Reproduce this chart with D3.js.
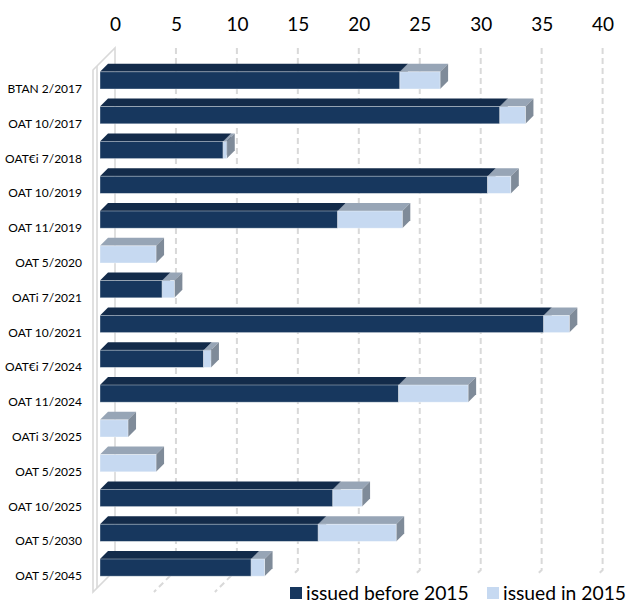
<!DOCTYPE html>
<html>
<head>
<meta charset="utf-8">
<script src="https://cdn.jsdelivr.net/npm/d3@7"></script>
<style>
  body { margin: 0; background: #fff; }
  svg { display: block; font-family: Lato, "Open Sans", sans-serif; }
</style>
</head>
<body>
<svg width="637" height="607"></svg>
<script>
let categories = ["BTAN 2/2017", "OAT 10/2017", "OAT€i 7/2018", "OAT 10/2019", "OAT 11/2019",
                  "OAT 5/2020", "OATi 7/2021", "OAT 10/2021", "OAT€i 7/2024", "OAT 11/2024",
                  "OATi 3/2025", "OAT 5/2025", "OAT 10/2025", "OAT 5/2030", "OAT 5/2045"];
let before2015 = [24.6, 32.8, 10.1, 31.8, 19.5, 0, 5.1, 36.4, 8.5, 24.5, 0, 0, 19.1, 17.9, 12.4];
let in2015     = [3.3, 2.1, 0.3, 1.9, 5.3, 4.6, 1.0, 2.1, 0.6, 5.7, 2.3, 4.6, 2.4, 6.4, 1.1];
let seriesNames = ["issued before 2015", "issued in 2015"];
let xTicks = [0, 5, 10, 15, 20, 25, 30, 35, 40];

/******************/

// front corner of the left wall, and depth of the 3d box
let x0 = 93, plotTop = 70, plotBottom = 592, depth = 22;
let barNear = 7, barFar = 15;   // depth range the bars sit in

let xScale = d3.scaleLinear().domain([0, 40]).range([0, 487.6]);
let yScale = d3.scaleBand().domain(categories).range([plotTop, plotBottom]);

let svg = d3.select("svg");

// X position on a plane at depth d
let px = (v, d) => x0 + d + xScale(v);

/*************************/

// gridlines on back wall + floor
let grid = svg.append("g").attr("class", "grid");
xTicks.filter(t => t > 0).forEach(t => {
  grid.append("path")
    .attr("d", `M${px(t, depth)},${plotTop - depth} L${px(t, depth)},${plotBottom - depth} L${px(t, 0)},${plotBottom}`)
    .attr("fill", "none")
    .attr("stroke", "#d9d9d9")
    .attr("stroke-width", 2)
    .attr("stroke-dasharray", "6,4");
});

// left wall
let wall = svg.append("g").attr("class", "wall")
  .attr("fill", "none").attr("stroke", "#d9d9d9").attr("stroke-width", 1.6);
wall.append("path")
  .attr("d", `M${x0},${plotBottom} L${x0},${plotTop} L${x0 + depth},${plotTop - depth} L${x0 + depth},${plotBottom - depth} Z`);
wall.append("path")
  .attr("d", `M${x0 + 4},${plotBottom - 4} L${x0 + 4},${plotTop - 4}`);

/***************************/

// top axis
let xAxis = d3.axisTop(xScale).tickValues(xTicks).tickSize(0).tickPadding(0);
let axisG = svg.append("g")
  .attr("transform", `translate(${x0 + depth}, 31)`)
  .call(xAxis);
axisG.select(".domain").remove();
axisG.selectAll("text")
  .attr("font-family", "Lato, 'Open Sans', sans-serif")
  .attr("font-size", 19)
  .attr("fill", "#000");

// category labels
svg.append("g").selectAll("text")
    .data(categories)
  .enter().append("text")
    .attr("x", 82)
    .attr("y", d => yScale(d) + yScale.bandwidth() / 2 + 5.5)
    .attr("text-anchor", "end")
    .attr("font-size", 12)
    .attr("fill", "#000")
    .text(d => d);

/**********************/

// 3d bars
let colors = [
  {front: "#17375e", top: "#132b4a", side: "#10243f"},
  {front: "#c6d9f1", top: "#97a5b6", side: "#7f8b99"}
];
let barH = 17.2;
let stacked = categories.map((c, i) => [
  {c: c, s: 0, a: 0, b: before2015[i]},
  {c: c, s: 1, a: before2015[i], b: before2015[i] + in2015[i]}
]).flat().filter(d => d.b > d.a);

let bars = svg.append("g").attr("class", "bars");
let dd = barFar - barNear;
stacked.forEach(d => {
  let y = yScale(d.c) + (yScale.bandwidth() - barH) / 2 - barNear;
  let xa = px(d.a, barNear), xb = px(d.b, barNear);
  let g = bars.append("g");
  // top face
  g.append("path")
    .attr("d", `M${xa},${y} L${xa + dd},${y - dd} L${xb + dd},${y - dd} L${xb},${y} Z`)
    .attr("fill", colors[d.s].top);
  // side face
  g.append("path")
    .attr("d", `M${xb},${y} L${xb + dd},${y - dd} L${xb + dd},${y - dd + barH} L${xb},${y + barH} Z`)
    .attr("fill", colors[d.s].side);
  // front face
  g.append("rect")
    .attr("x", xa).attr("y", y)
    .attr("width", xb - xa).attr("height", barH)
    .attr("fill", colors[d.s].front)
    .attr("stroke", "rgba(255,255,255,0.45)")
    .attr("stroke-width", 0.8);
});

/**********************/

// legend
let legend = svg.append("g");
legend.append("rect").attr("x", 272).attr("y", 574).attr("width", 365).attr("height", 33).attr("fill", "#fff");
let legX = [290, 487];
seriesNames.forEach((n, i) => {
  legend.append("rect")
    .attr("x", legX[i]).attr("y", 587).attr("width", 12).attr("height", 12)
    .attr("fill", colors[i].front);
  legend.append("text")
    .attr("x", legX[i] + 16).attr("y", 600)
    .attr("font-size", 19.3)
    .attr("fill", "#000")
    .text(n);
});
</script>
</body>
</html>
